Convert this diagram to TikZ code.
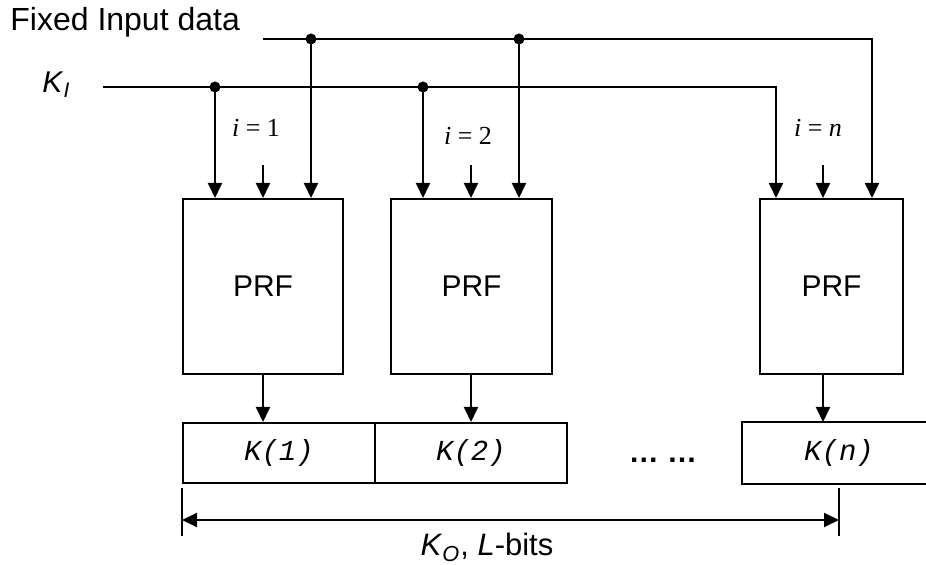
\documentclass[tikz,border=0pt]{standalone}
\usepackage{fontspec}
\setmainfont{Liberation Sans}
\newfontfamily\serifrm{Liberation Serif}
\newfontfamily\monott{Liberation Mono}
\usepackage{tikz}
\usetikzlibrary{arrows.meta}
\tikzset{>=latex}
\tikzstyle{wire}=[line width=1pt,black]
\tikzstyle{flow}=[wire,-{Triangle[length=7.5pt,width=7pt]}]
\tikzstyle{dim}=[wire,{Triangle[length=7.5pt,width=7pt]}-{Triangle[length=7.5pt,width=7pt]}]
\tikzstyle{prf}=[draw,line width=1pt,minimum width=80pt,minimum height=87.5pt,inner sep=0pt,font=\fontsize{15}{18}\selectfont]
\tikzstyle{kbox}=[draw,line width=1pt,minimum width=96pt,minimum height=30pt,inner sep=0pt,font=\fontsize{14.5}{17}\selectfont\monott\itshape]
\tikzstyle{idx}=[anchor=base,inner sep=0pt,font=\fontsize{13}{15}\selectfont\serifrm]
\tikzstyle{dot}=[circle,fill=black,inner sep=0pt,minimum size=5.5pt]

\begin{document}
\begin{tikzpicture}[x=0.5pt,y=-0.5pt]
  \useasboundingbox (0,0) rectangle (926,565);

  % labels of the two inputs
  \node[anchor=base west,inner sep=0pt,font=\fontsize{16}{19}\selectfont] (fixlbl) at (10,31) {Fixed Input data};
  \node[anchor=base west,inner sep=0pt,font=\fontsize{15}{18}\selectfont] (kilbl) at (42,93) {\textit{K}\textsubscript{\textit{I}}};

  % PRF blocks
  \node[prf] (prf1) at (263,286.5) {PRF};
  \node[prf,minimum width=80.5pt] (prf2) at (471.5,286.5) {PRF};
  \node[prf,minimum width=71.5pt] (prfn) at (831.5,286.5) {PRF};

  % output key segments (the last one runs off the right edge)
  \node[kbox] (k1) at (279,453) {K(1)};
  \node[kbox] (k2) at (471,453) {K(2)};
  \node[kbox,draw=none] (kn) at (839,453) {K(n)};
  \draw[wire] ([xshift=20pt]kn.north east) -- (kn.north west) -- (kn.south west) -- ([xshift=20pt]kn.south east);
  \node[anchor=base,inner sep=0pt,font=\fontsize{15}{18}\selectfont\bfseries] (gap) at (663,463) {\dots\ \dots};

  % taps on the input lines
  \coordinate (fstart) at (263,39);
  \coordinate (ft1) at (311,39);
  \coordinate (ft2) at (519,39);
  \coordinate (ftn) at (872,39);
  \coordinate (kstart) at (103,87);
  \coordinate (kt1) at (215,87);
  \coordinate (kt2) at (423,87);
  \coordinate (ktn) at (776,87);
  \coordinate (it1) at (263,165);
  \coordinate (it2) at (471,165);
  \coordinate (itn) at (823,165);

  \draw[flow] (fstart) -- (ftn) -- (ftn |- prfn.north);
  \draw[flow] (kstart) -- (ktn) -- (ktn |- prfn.north);
  \foreach \t/\b in {ft1/prf1,ft2/prf2,kt1/prf1,kt2/prf2}{
    \draw[flow] (\t) -- (\t |- \b.north);
    \node[dot] at (\t) {};
  }

  % index inputs and outputs
  \foreach \t/\b/\k in {it1/prf1/k1,it2/prf2/k2,itn/prfn/kn}{
    \draw[flow] (\t) -- (\t |- \b.north);
    \draw[flow] (\t |- \b.south) -- (\t |- \k.north);
  }
  \node[idx] (i1) at (256,137) {\textit{i} = 1};
  \node[idx] (i2) at (468,145) {\textit{i} = 2};
  \node[idx] (in) at (818,137) {\textit{i} = \textit{n}};

  % length of the output key
  \draw[wire] ([yshift=-2pt]k1.south west) -- ([yshift=-26pt]k1.south west);
  \draw[wire] ([yshift=-2pt]kn.south) -- ([yshift=-26pt]kn.south);
  \draw[dim] ([yshift=-18pt]k1.south west) -- ([yshift=-18pt]kn.south);
  \node[anchor=base,inner sep=0pt,font=\fontsize{15.5}{18}\selectfont] (kolbl) at (487,556) {\textit{K}\textsubscript{\textit{O}}, \textit{L}-bits};
\end{tikzpicture}
\end{document}
